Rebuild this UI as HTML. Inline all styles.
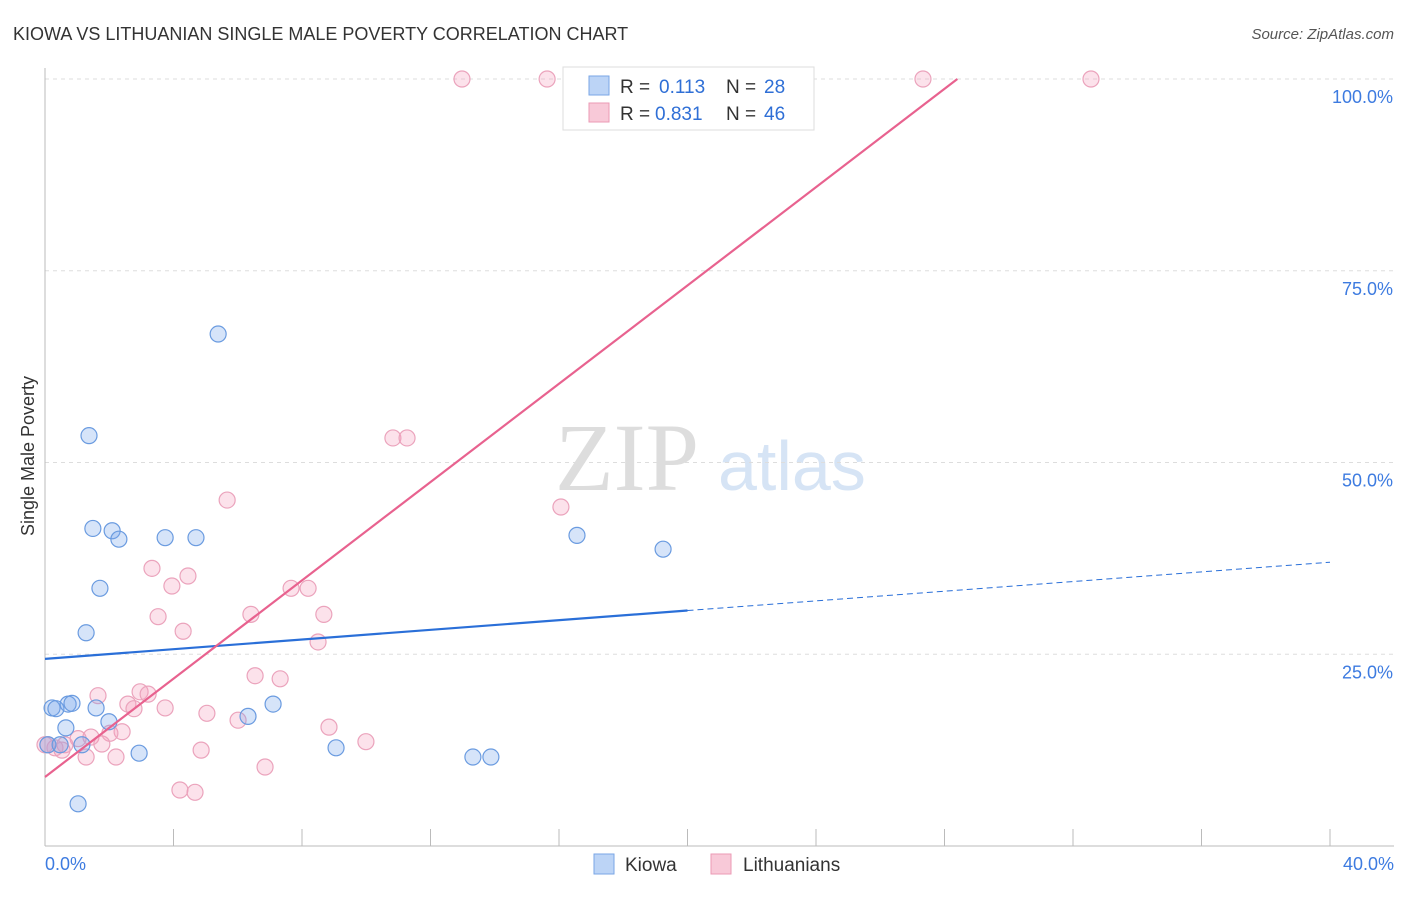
<!DOCTYPE html>
<html><head><meta charset="utf-8"><style>
body{margin:0;background:#fff;font-family:"Liberation Sans",sans-serif}
svg text{font-family:"Liberation Sans",sans-serif}
</style></head><body>
<svg id="c" width="1406" height="892">
<text x="13" y="40" font-size="18" fill="#333">KIOWA VS LITHUANIAN SINGLE MALE POVERTY CORRELATION CHART</text>
<text x="1394" y="39" font-size="15" fill="#555" text-anchor="end" font-style="italic">Source: ZipAtlas.com</text>
<text transform="translate(34,456) rotate(-90)" font-size="18" fill="#333" text-anchor="middle">Single Male Poverty</text>
<g><text x="555" y="490" font-size="96" fill="#ddd" font-family="Liberation Serif" style="font-family:'Liberation Serif',serif">ZIP</text><text x="718" y="490" font-size="70" fill="#d6e4f5">atlas</text></g>
<g id="grid"></g><g id="axes"></g><g id="pts"></g><g id="lines"></g>
<g>
<rect x="563" y="67" width="251" height="63" fill="#fff" stroke="#ddd"/>
<rect x="589" y="76" width="20" height="19" fill="#bcd4f6" stroke="#7aa6e6"/>
<text x="620" y="93" font-size="19" fill="#333">R =</text>
<text x="659" y="93" font-size="19" fill="#2f6fd6">0.113</text>
<text x="726" y="93" font-size="19" fill="#333">N =</text>
<text x="764" y="93" font-size="19" fill="#2f6fd6">28</text>
<rect x="589" y="103" width="20" height="19" fill="#f8c9d8" stroke="#eb9ab5"/>
<text x="620" y="120" font-size="19" fill="#333">R =</text>
<text x="655" y="120" font-size="19" fill="#2f6fd6">0.831</text>
<text x="726" y="120" font-size="19" fill="#333">N =</text>
<text x="764" y="120" font-size="19" fill="#2f6fd6">46</text>
</g>
<g>
<rect x="594" y="854" width="20" height="20" fill="#bcd4f6" stroke="#7aa6e6"/>
<text x="625" y="871" font-size="19" fill="#333">Kiowa</text>
<rect x="711" y="854" width="20" height="20" fill="#f8c9d8" stroke="#eb9ab5"/>
<text x="743" y="871" font-size="19" fill="#333">Lithuanians</text>
</g>
</svg>
<script>
const xTicks=[0,40];
const yTicks=[25,50,75,100];
const kiowaX=[5.39,1.37,1.49,2.09,2.30,3.74,4.70,1.71,1.28,16.56,19.24,0.22,0.34,0.72,0.84,1.59,1.99,0.65,6.32,7.10,2.93,9.06,13.32,13.88,1.03,0.09,0.47,1.15];
const kiowaY=[66.75,53.5,41.4,41.1,40.0,40.2,40.2,33.6,27.8,40.5,38.7,18.0,17.9,18.5,18.6,18.0,16.2,15.4,16.9,18.5,12.1,12.8,11.6,11.6,5.5,13.2,13.2,13.2];
const lithX=[12.98,15.63,27.33,32.56,10.83,11.27,16.06,5.67,3.33,4.45,3.95,7.66,8.19,6.41,8.68,3.52,4.30,8.50,1.65,2.96,3.21,2.58,2.77,3.74,5.04,6.01,6.54,7.32,8.84,9.99,2.40,2.02,1.43,1.03,1.77,0.62,0.31,0.09,1.28,2.21,4.86,6.85,4.20,4.67,0.53,0];
const lithY=[100,100,100,100,53.2,53.2,44.2,45.1,36.2,35.2,33.9,33.6,33.6,30.2,30.2,29.9,28.0,26.6,19.6,20.1,19.8,18.5,17.9,18.0,17.3,16.4,22.2,21.8,15.5,13.6,14.9,14.7,14.2,14.0,13.3,13.2,12.8,13.2,11.6,11.6,12.5,10.3,7.3,7.0,12.5,13.2];
const kiowaFit=[24.4,37.0];
const lithFit=[9.0,100,28.4];
const X=v=>45+v*32.125, Y=v=>846-v*7.67;
const NS='http://www.w3.org/2000/svg';
function mk(p,t,a){const e=document.createElementNS(NS,t);for(const k in a)e.setAttribute(k,a[k]);document.getElementById(p).appendChild(e);return e;}
yTicks.forEach(v=>{
 const g=mk('grid','line',{x1:45,x2:1394,y1:Y(v),y2:Y(v),stroke:'#ddd','stroke-dasharray':'4,4'});
 
 
 const t=mk('grid','text',{x:1393,y:Y(v)+24,'font-size':18,fill:'#3d7be0','text-anchor':'end'});t.textContent=v.toFixed(1)+'%';
 
 
});
const ax=mk('axes','line',{x1:45,x2:1394,y1:846,y2:846,stroke:'#bbb'});


const ay=mk('axes','line',{x1:45,x2:45,y1:68,y2:846,stroke:'#bbb'});


for(let i=1;i<=10;i++){const t=mk('axes','line',{x1:X(i*4),x2:X(i*4),y1:829,y2:846,stroke:'#bbb'});
 
 }
xTicks.forEach((v,i)=>{const t=mk('axes','text',{x:i?1394:45,y:870,'font-size':18,fill:'#3d7be0','text-anchor':i?'end':'start'});t.textContent=v.toFixed(1)+'%';
 
 });
lithX.forEach((v,i)=>{const c=mk('pts','circle',{cx:X(v),cy:Y(lithY[i]),r:8,fill:'rgba(244,160,190,0.3)',stroke:'#eba3bc','stroke-width':1.2});
 
 });
kiowaX.forEach((v,i)=>{const c=mk('pts','circle',{cx:X(v),cy:Y(kiowaY[i]),r:8,fill:'rgba(120,165,235,0.3)',stroke:'#6a9be0','stroke-width':1.2});
 
 });
const kf=v=>kiowaFit[0]+(kiowaFit[1]-kiowaFit[0])*v/40;
const l1=mk('lines','line',{x1:X(0),y1:Y(kf(0)),x2:X(20),y2:Y(kf(20)),stroke:'#2a6fd8','stroke-width':2.2});


const l2=mk('lines','line',{x1:X(20),y1:Y(kf(20)),x2:X(40),y2:Y(kf(40)),stroke:'#2a6fd8','stroke-width':1,'stroke-dasharray':'6,4'});


const l3=mk('lines','line',{x1:X(0),y1:Y(lithFit[0]),x2:X(lithFit[2]),y2:Y(lithFit[1]),stroke:'#e8628f','stroke-width':2.2});


</script>
</body></html>
